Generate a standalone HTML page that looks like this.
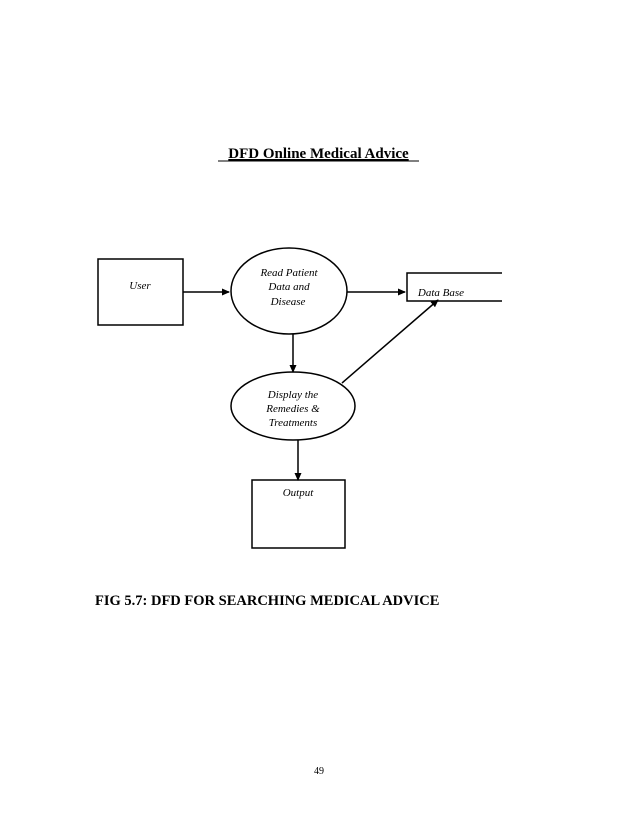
<!DOCTYPE html>
<html><head><meta charset="utf-8"><style>
html,body{margin:0;padding:0;background:#fff;}
body{width:638px;height:826px;overflow:hidden;}
</style></head><body>
<svg width="638" height="826" xmlns="http://www.w3.org/2000/svg" font-family="Liberation Serif, serif">
<defs><marker id="a" markerWidth="8" markerHeight="8" refX="7" refY="4" orient="auto" markerUnits="userSpaceOnUse"><path d="M0,0.5 L8,4 L0,7.5 z" fill="#000"/></marker></defs>
<text x="318.5" y="158" text-anchor="middle" font-weight="bold" font-size="15" text-decoration="underline">DFD Online Medical Advice</text>
<line x1="218" y1="161" x2="419" y2="161" stroke="#000" stroke-width="1"/>
<g fill="none" stroke="#000" stroke-width="1.5">
<rect x="98" y="259" width="85" height="66"/>
<ellipse cx="289" cy="291" rx="58" ry="43"/>
<ellipse cx="293" cy="406" rx="62" ry="34"/>
<rect x="252" y="480" width="93" height="68"/>
<path d="M502,273 H407 V301 H502"/>
<line x1="183" y1="292" x2="229" y2="292" marker-end="url(#a)"/>
<line x1="347" y1="292" x2="405" y2="292" marker-end="url(#a)"/>
<line x1="293" y1="334" x2="293" y2="372" marker-end="url(#a)"/>
<line x1="342" y1="383" x2="438" y2="300" marker-end="url(#a)"/>
<line x1="298" y1="440" x2="298" y2="480" marker-end="url(#a)"/>
</g>
<g font-style="italic" font-size="11" text-anchor="middle">
<text x="140" y="289">User</text>
<text x="289" y="276">Read Patient</text>
<text x="289" y="290">Data and</text>
<text x="288" y="305">Disease</text>
<text x="293" y="398">Display the</text>
<text x="293" y="412">Remedies &amp;</text>
<text x="293" y="426">Treatments</text>
<text x="298" y="496">Output</text>
<text x="441" y="296">Data Base</text>
</g>
<text x="95" y="605" font-weight="bold" font-size="14.5">FIG 5.7: DFD FOR SEARCHING MEDICAL ADVICE</text>
<text x="319" y="774" text-anchor="middle" font-size="10">49</text>
</svg>
</body></html>
